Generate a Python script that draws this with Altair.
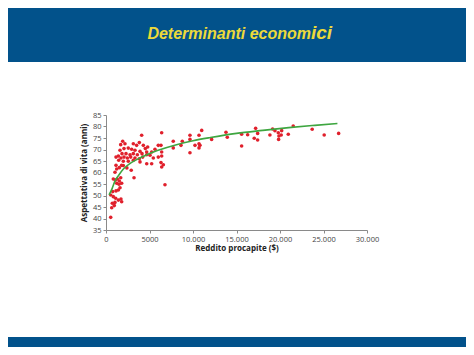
import altair as alt
import pandas as pd

# Scatter points: income per capita ($) and life expectancy (years)
income = [1230, 1530, 1034, 840, 1070, 1300, 1530, 1690, 1230, 1490, 1800, 1610, 1420, 1150, 770,
          540, 840, 1110, 1420, 1720, 1800, 1030, 725, 955, 655, 540, 3220, 1990,
          4100, 1920, 2180, 1690, 3140, 3520, 3830, 4290, 4520, 2070, 2560, 2950, 3330, 3910,
          1610, 1840, 2300, 2760, 3140, 3600, 4140, 4680, 1420, 1150, 1720, 2070, 2450, 2840,
          3330, 3830, 4220, 1460, 1990, 2560, 3140, 3910, 4680, 1150, 1800, 2400, 2900,
          6400, 4790, 6010, 6320, 7730, 8620, 8770, 9650, 9650, 10690, 11000, 10800, 10690,
          10690, 10230, 9650, 7730, 6400, 5630, 5250, 4680, 5060, 6400, 6010, 5440, 6320,
          6590, 6400, 5250, 6780,
          12140, 13790, 13940, 15590, 15590, 16280, 17040, 17200, 17430, 17430, 18840,
          19150, 19420, 19800, 20190, 19840, 19880, 20140, 20950, 21520, 23700, 25080, 26740]
life = [61.5, 62.1, 60.1, 57.2, 56.7, 57.2, 56.3, 57.7, 55.3, 54.9, 55.3, 53.4, 52.4, 52.0, 51.7,
        50.2, 49.5, 48.8, 48.0, 48.5, 47.3, 47.0, 46.6, 45.6, 44.7, 40.5, 57.7, 63.0,
        76.2, 73.6, 72.5, 72.1, 72.5, 71.8, 73.0, 71.8, 70.4, 70.4, 70.6, 70.1, 69.7, 69.2,
        69.7, 68.2, 68.2, 67.7, 68.2, 67.7, 68.2, 67.7, 67.2, 66.7, 66.3, 66.7, 66.3, 66.7,
        66.3, 66.0, 66.7, 65.3, 64.9, 64.9, 65.3, 64.6, 63.8, 63.1, 63.1, 62.0, 61.0,
        77.3, 71.1, 71.8, 71.8, 73.6, 71.8, 73.6, 74.4, 76.2, 76.2, 78.3, 71.8, 70.7,
        72.5, 71.8, 68.6, 70.7, 68.9, 70.1, 68.9, 68.9, 67.5, 67.2, 66.7, 66.3, 64.3,
        63.4, 62.4, 63.8, 54.7,
        74.4, 77.5, 75.3, 76.6, 71.5, 76.4, 74.9, 79.2, 77.0, 74.1, 76.3,
        78.9, 78.2, 77.3, 78.2, 74.4, 75.9, 76.3, 76.6, 80.2, 78.8, 76.3, 77.0]

# Fitted curve, points
curve_x = [350, 700, 1000, 1500, 2000, 3000, 4000, 5000, 6000, 8000, 10000, 12000, 15000,
           18000, 21000, 24000, 26600]
curve_y = [50.3, 53.0, 56.0, 59.0, 61.5, 64.5, 66.5, 68.3, 69.7, 72.0, 73.8, 75.2, 77.0,
           78.3, 79.5, 80.5, 81.3]

x_ticks = [0, 5000, 10000, 15000, 20000, 25000, 30000]
y_ticks = [35, 40, 45, 50, 55, 60, 65, 70, 75, 80, 85]

title_main = "Determinanti econom"
title_tail = "ici"
x_title = "Reddito procapite ($)"
y_title = "Aspettativa di vita (anni)"

BLUE = "#02528b"
YELLOW = "#ecd93a"
AXFONT = "Open Sans"

pts = pd.DataFrame({"x": income, "y": life})
crv = pd.DataFrame({"x": curve_x, "y": curve_y})
one = pd.DataFrame({"k": [0]})

xscale = alt.Scale(domain=[0, 30000], nice=False)
yscale = alt.Scale(domain=[35, 85], nice=False, zero=False)

label_expr = "datum.value >= 10000 ? replace(format(datum.value, ','), ',', '.') : format(datum.value, 'd')"

xaxis = alt.Axis(values=x_ticks, labelExpr=label_expr, title=x_title, grid=False,
                 domainColor="#8a8a8a", tickColor="#8a8a8a", tickSize=3, labelPadding=2,
                 labelOverlap=False, labelFlush=False,
                 labelFontSize=7.5, labelColor="#444444", labelFont=AXFONT,
                 titleFontSize=8, titleFont=AXFONT, titleColor="#222222",
                 titleFontWeight="bold", titlePadding=2)
yaxis = alt.Axis(values=y_ticks, title=y_title, grid=False,
                 domainColor="#8a8a8a", tickColor="#8a8a8a", tickSize=3, labelPadding=2,
                 labelOverlap=False, labelFlush=False, labelBound=False,
                 labelFontSize=7.5, labelColor="#444444", labelFont=AXFONT,
                 titleFontSize=8, titleFont=AXFONT, titleColor="#222222",
                 titleFontWeight="bold", titlePadding=4)

band_top = alt.Chart(one).mark_rect(color=BLUE).encode(
    x=alt.value(-100), x2=alt.value(362), y=alt.value(-110), y2=alt.value(-53))
band_bot = alt.Chart(one).mark_rect(color=BLUE).encode(
    x=alt.value(-100), x2=alt.value(362), y=alt.value(222), y2=alt.value(245))

t1 = alt.Chart(one).mark_text(text=title_main, font="Liberation Sans", fontSize=16,
                              fontWeight="bold", fontStyle="italic", color=YELLOW,
                              align="right", baseline="alphabetic").encode(
    x=alt.value(205), y=alt.value(-76))
t2 = alt.Chart(one).mark_text(text=title_tail, font="Liberation Sans", fontSize=19,
                              fontWeight="bold", fontStyle="italic", color=YELLOW,
                              align="left", baseline="alphabetic").encode(
    x=alt.value(205), y=alt.value(-76))

scatter = alt.Chart(pts).mark_circle(size=13, color="#e0202c", opacity=1).encode(
    x=alt.X("x:Q", scale=xscale, axis=xaxis),
    y=alt.Y("y:Q", scale=yscale, axis=yaxis))

line = alt.Chart(crv).mark_line(color="#3ea640", strokeWidth=1.6, interpolate="monotone").encode(
    x=alt.X("x:Q", scale=xscale, axis=xaxis), y=alt.Y("y:Q", scale=yscale, axis=yaxis))

chart = alt.layer(band_top, band_bot, t1, t2, scatter, line).properties(
    width=261, height=115,
    autosize=alt.AutoSizeParams(type="none"),
    padding={"left": 98, "top": 107, "right": 99, "bottom": 117},
    background="white",
).configure_view(stroke=None).configure_axisY(labelOverlap=False)

chart.save("out.html", embed_options={"renderer": "svg", "actions": False})
